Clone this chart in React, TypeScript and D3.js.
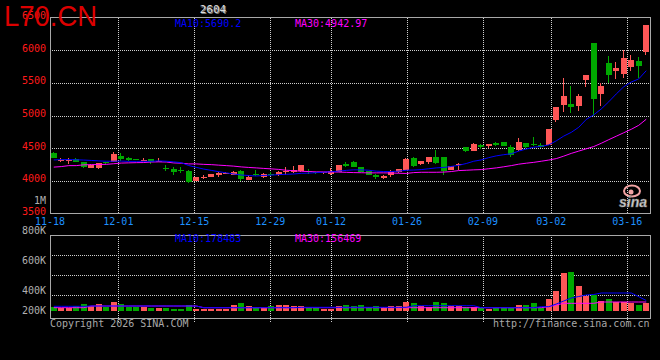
import React from 'react';
import * as d3 from 'd3';

const tickIdx = [0, 9, 19, 29, 37, 47, 57, 66, 76];
const tickLabels = ['11-18', '12-01', '12-15', '12-29', '01-12', '01-26', '02-09', '03-02', '03-16'];

const opens = [4431,4300,4300,4340,4290,4198,4192,4283,4290,4375,
 4355,4330,4305,4330,4300,4200,4187,4172,4146,3994,
 4040,4061,4085,4110,4095,4146,4020,4100,4055,4100,
 4085,4130,4130,4146,4150,4130,4118,4110,4142,4265,
 4285,4207,4150,4095,4050,4090,4130,4172,4345,4255,
 4290,4360,4360,4170,4235,4512,4462,4553,4530,4585,
 4588,4525,4465,4575,4560,4545,4555,4925,5165,5180,
 5150,5545,6112,5330,5808,5685,5635,5737,5833,5975];
const highs = [4435,4345,4345,4345,4295,4255,4275,4290,4442,4426,
 4360,4335,4345,4335,4345,4248,4213,4213,4172,4060,
 4085,4112,4128,4130,4145,4172,4085,4160,4120,4130,
 4157,4207,4222,4245,4177,4140,4135,4198,4245,4290,
 4310,4217,4155,4100,4085,4170,4185,4345,4360,4310,
 4370,4475,4365,4225,4280,4520,4580,4558,4570,4595,
 4592,4545,4655,4580,4665,4580,4800,5135,5570,5450,
 5330,5625,6115,5500,5910,5820,6000,5925,5890,6385];
const lows = [4345,4295,4260,4285,4198,4195,4188,4262,4285,4305,
 4310,4312,4300,4259,4290,4146,4096,4122,3970,3990,
 4035,4058,4055,4100,4090,3994,4015,4080,4045,4075,
 4080,4095,4120,4140,4100,4110,4110,4095,4138,4210,
 4205,4135,4085,4025,4025,4060,4125,4165,4215,4240,
 4260,4260,4095,4165,4172,4445,4455,4480,4505,4540,
 4530,4365,4460,4510,4530,4500,4550,4900,5060,5045,
 5070,5430,4995,5150,5500,5555,5570,5680,5580,5925];
const closes = [4350,4315,4315,4290,4207,4248,4268,4268,4416,4340,
 4315,4315,4322,4290,4305,4183,4142,4152,3979,4055,
 4060,4107,4122,4115,4131,4030,4055,4085,4107,4090,
 4137,4155,4160,4238,4145,4115,4128,4145,4238,4225,
 4213,4140,4090,4055,4080,4140,4180,4340,4225,4300,
 4365,4275,4150,4222,4260,4451,4570,4512,4565,4550,
 4535,4400,4590,4515,4550,4520,4797,5130,5300,5123,
 5300,5620,5260,5450,5620,5730,5885,5850,5762,6380];

const ma10 = [4320,4325,4325,4322,4318,4312,4305,4300,4300,4302,
 4298,4298,4299,4299,4305,4300,4290,4278,4234,4206,
 4180,4160,4140,4122,4105,4089,4081,4074,4082,4088,
 4095,4100,4105,4115,4118,4125,4132,4138,4150,4160,
 4168,4168,4162,4148,4142,4142,4148,4162,4165,4172,
 4185,4198,4205,4220,4238,4265,4300,4320,4355,4382,
 4400,4415,4455,4487,4515,4527,4550,4612,4685,4742,
 4820,4940,5010,5100,5210,5330,5440,5512,5560,5686];
const ma30 = [4210,4218,4233,4233,4245,4248,4250,4252,4262,4272,
 4275,4278,4280,4288,4290,4288,4274,4270,4259,4259,
 4252,4248,4240,4233,4225,4213,4205,4198,4190,4183,
 4175,4162,4155,4146,4142,4137,4137,4137,4134,4130,
 4126,4124,4122,4122,4122,4120,4116,4113,4126,4131,
 4131,4131,4134,4142,4157,4162,4168,4172,4185,4198,
 4215,4233,4255,4270,4283,4300,4318,4340,4378,4420,
 4455,4490,4525,4575,4630,4683,4736,4789,4850,4943];

const volumes = [83,73,73,90,110,93,110,77,130,107,
 83,77,83,73,73,73,63,63,100,63,
 63,63,63,63,100,120,90,73,73,90,
 100,100,90,90,73,73,63,63,90,100,
 90,100,77,90,77,90,90,133,120,90,
 77,130,120,90,90,77,77,77,63,68,
 68,68,100,100,120,73,160,243,423,433,
 290,190,197,140,160,130,130,117,100,117].map(v => v * 1000);
const volMa10 = [87,87,87,87,87,90,90,90,90,90,
 90,90,90,90,90,90,90,90,90,90,
 73,73,73,73,73,73,73,73,73,73,
 73,73,73,77,77,77,77,77,77,77,
 77,77,77,77,77,77,77,77,93,93,
 93,93,93,93,93,93,93,73,73,73,
 73,73,73,73,73,83,83,110,140,170,
 185,200,205,220,220,220,220,220,183,145].map(v => v * 1000);
const volMa30 = [73,73,73,73,73,90,90,90,90,90,
 90,90,90,90,90,90,90,90,90,90,
 73,73,73,73,73,73,73,73,73,73,
 73,73,73,73,73,73,73,73,73,73,
 73,73,73,73,73,73,73,73,73,73,
 73,73,73,73,73,73,73,73,73,73,
 73,73,73,73,73,73,83,100,117,117,
 117,117,117,130,130,130,130,130,130,130].map(v => v * 1000);

const priceTicks = [6500, 6000, 5500, 5000, 4500, 4000, 3500];
const priceGrid = [6000, 5500, 5000, 4500, 4000];
const volGrid = [600000, 400000, 200000];
const volLabelTicks = [1000000, 800000, 600000, 400000, 200000];

const title = '2604';
const brand = 'L70.CN';
const priceMaText = ['MA10:5690.2', 'MA30:4942.97'];
const volMaText = ['MA10:178483', 'MA30:156469'];

const RED = '#ff5757';
const GREEN = '#00a800';
const BLUE = '#0000ff';
const MAG = '#ff00ff';
const GRID = '#cfcfcf';
const FRAME = '#a8a8a8';
const MONO = "'DejaVu Sans Mono', monospace";

export default function App() {
  const N = closes.length;
  const L = 50, R = 650;
  const PT = 17.5, PB = 213.5;
  const VT = 235, VB = 318, VBASE = 311;

  const xBand = d3.scaleBand<number>().domain(d3.range(N)).range([L, R]).paddingInner(0.2).paddingOuter(0.1);
  const bw = xBand.bandwidth();
  const xc = (i: number) => (xBand(i) as number) + bw / 2;
  const xGrid = d3.scaleLinear().domain([0, N - 1]).range([L, R]);
  const yP = d3.scaleLinear().domain([3500, 6500]).range([PB, PT]);
  const yV = d3.scaleLinear().domain([40000, 800000]).range([VBASE, VT]);
  const yVL = d3.scaleLinear().domain([800000, 400000]).range([234, 294]);

  const mkLine = (ys: d3.ScaleLinear<number, number>, arr: number[]) =>
    d3.line<number>().x((_, i) => xc(i)).y(v => ys(v))(arr) || '';

  const fmtVol = (v: number) => (v >= 1000000 ? `${v / 1000000}M` : `${v / 1000}K`);

  return (
    <svg width={660} height={360} style={{ position: 'absolute', left: 0, top: 0 }} xmlns="http://www.w3.org/2000/svg">
      <rect x={0} y={0} width={660} height={360} fill="#000" />

      {/* price grid */}
      {priceGrid.map(v => (
        <line key={'pg' + v} x1={L} x2={R} y1={Math.round(yP(v)) + 0.5} y2={Math.round(yP(v)) + 0.5}
          stroke={GRID} strokeDasharray="1 1" shapeRendering="crispEdges" />
      ))}
      {tickIdx.slice(1).map(i => (
        <line key={'pv' + i} x1={Math.round(xGrid(i)) + 0.5} x2={Math.round(xGrid(i)) + 0.5} y1={PT} y2={PB}
          stroke={GRID} strokeDasharray="1 1" shapeRendering="crispEdges" />
      ))}
      {/* volume grid */}
      {volGrid.map(v => (
        <line key={'vg' + v} x1={L} x2={R} y1={Math.round(yV(v)) + 0.5} y2={Math.round(yV(v)) + 0.5}
          stroke={GRID} strokeDasharray="1 1" shapeRendering="crispEdges" />
      ))}
      {tickIdx.slice(1).map(i => (
        <line key={'vv' + i} x1={Math.round(xGrid(i)) + 0.5} x2={Math.round(xGrid(i)) + 0.5} y1={VT} y2={VB + 4}
          stroke={GRID} strokeDasharray="1 1" shapeRendering="crispEdges" />
      ))}

      {/* frames */}
      <rect x={L} y={PT} width={R - L} height={PB - PT} fill="none" stroke={FRAME} shapeRendering="crispEdges" />
      <rect x={L} y={VT} width={R - L} height={VB - VT} fill="none" stroke={FRAME} shapeRendering="crispEdges" />

      {/* candles */}
      {closes.map((c, i) => {
        const o = opens[i];
        const up = c >= o;
        const col = up ? RED : GREEN;
        const bx = Math.round(xBand(i) as number);
        const top = Math.round(yP(Math.max(o, c)));
        const bot = Math.round(yP(Math.min(o, c)));
        return (
          <g key={'c' + i} shapeRendering="crispEdges">
            <line x1={bx + 2.5} x2={bx + 2.5} y1={Math.round(yP(highs[i]))} y2={Math.round(yP(lows[i]))} stroke={col} />
            <rect x={bx} y={top} width={6} height={Math.max(1, bot - top)} fill={col} />
          </g>
        );
      })}
      <path d={mkLine(yP, ma30)} fill="none" stroke={MAG} strokeWidth={1} />
      <path d={mkLine(yP, ma10)} fill="none" stroke={BLUE} strokeWidth={1} />

      {/* volume bars */}
      {volumes.map((v, i) => {
        const up = closes[i] >= opens[i];
        const bx = Math.round(xBand(i) as number);
        const top = Math.round(yV(v));
        return <rect key={'v' + i} x={bx} y={top} width={6} height={Math.max(1, VBASE - top)} fill={up ? RED : GREEN} shapeRendering="crispEdges" />;
      })}
      <path d={mkLine(yV, volMa30)} fill="none" stroke={MAG} strokeWidth={1} />
      <path d={mkLine(yV, volMa10)} fill="none" stroke={BLUE} strokeWidth={1} />

      {/* sina logo */}
      <g>
        <ellipse cx={632} cy={191} rx={8} ry={5.5} fill="none" stroke="#f2a3a3" strokeWidth={2} />
        <circle cx={631} cy={192} r={2.5} fill="#f2a3a3" />
        <text x={619} y={207} fontFamily="'Liberation Sans', sans-serif" fontStyle="italic" fontWeight="bold" fontSize={14}
          fill="#d8d8d8" stroke="#777" strokeWidth={0.6}>sina</text>
      </g>

      {/* price axis labels */}
      {priceTicks.map(v => (
        <text key={'pl' + v} x={46} y={yP(v) + 1.5} textAnchor="end" fontFamily={MONO} fontSize={10} fill="#ff1a1a">{v}</text>
      ))}
      {/* volume axis labels */}
      {volLabelTicks.map(v => (
        <text key={'vl' + v} x={46} y={Math.min(314, yVL(v))} textAnchor="end" fontFamily={MONO} fontSize={10} fill="#b0b0b0">{fmtVol(v)}</text>
      ))}
      {/* x labels */}
      {tickIdx.map((i, k) => (
        <text key={'xl' + i} x={xGrid(i)} y={225} textAnchor="middle" fontFamily={MONO} fontSize={10} fill="#1e90ff">{tickLabels[k]}</text>
      ))}

      {/* MA labels */}
      <text x={175} y={26.5} fontFamily={MONO} fontSize={10} fill={BLUE}>{priceMaText[0]}</text>
      <text x={295} y={26.5} fontFamily={MONO} fontSize={10} fill={MAG}>{priceMaText[1]}</text>
      <text x={175} y={241.5} fontFamily={MONO} fontSize={10} fill={BLUE}>{volMaText[0]}</text>
      <text x={295} y={241.5} fontFamily={MONO} fontSize={10} fill={MAG}>{volMaText[1]}</text>

      {/* title */}
      <text x={214} y={14} textAnchor="middle" fontFamily={MONO} fontSize={11} fontWeight="bold" fill="#777">{title}</text>
      <text x={213} y={13} textAnchor="middle" fontFamily={MONO} fontSize={11} fill="#dcdcdc">{title}</text>

      {/* footer */}
      <text x={50} y={326.5} fontFamily={MONO} fontSize={10} fill="#a8a8a8">Copyright 2026 SINA.COM</text>
      <text x={649.5} y={326.5} textAnchor="end" fontFamily={MONO} fontSize={10} fill="#a8a8a8">http://finance.sina.com.cn</text>

      {/* brand */}
      <text x={4} y={26} fontFamily="'Liberation Sans', Arial, sans-serif" fontSize={29} fill="#dc0000"
        textLength={93} lengthAdjust="spacingAndGlyphs">{brand}</text>
    </svg>
  );
}
